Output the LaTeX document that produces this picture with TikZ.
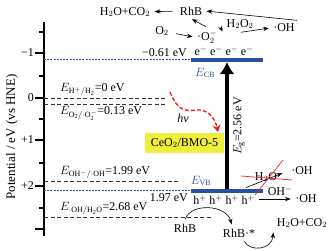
\documentclass[tikz,border=0pt]{standalone}
\usepackage{fontspec}
\setmainfont{Liberation Serif}
\usetikzlibrary{arrows.meta,calc,positioning}
\definecolor{bandblue}{RGB}{40,80,165}
\definecolor{boxyellow}{RGB}{240,238,60}
\definecolor{hvred}{RGB}{235,30,30}

\begin{document}
\begin{tikzpicture}[x=1pt,y=-1pt,>=Stealth,font=\fontsize{12}{14}\selectfont,
    lvl/.style={black!80,dash pattern=on 4pt off 2.5pt,line width=0.6pt},
    blvl/.style={bandblue,dash pattern=on 2pt off 1.2pt,line width=0.5pt},
    band/.style={bandblue,line width=3.5pt},
    rxn/.style={->,line width=0.6pt,shorten >=1pt,shorten <=1pt}]
  \def\xa{44}     % eje de potencial
  \def\xl{191}    % borde izquierdo de las bandas
  \def\xr{263}    % borde derecho de las bandas
  \def\ycb{60}    % banda de conduccion
  \def\yvb{191}   % banda de valencia
  \useasboundingbox (0,0) rectangle (330,250);

  % --- eje
  \draw[line width=1.6pt] (\xa,22) -- (\xa,236);
  \foreach \y/\t in {53/−1,98/0,140/+1,186/+2,229/} {
    \draw[line width=1.2pt] (\xa-9,\y) -- (\xa,\y);
    \node[anchor=east,inner sep=1pt] at (\xa-9,\y) {\t};
  }
  \foreach \y in {32,76,119,163,208}
    \draw[line width=1.2pt] (\xa-5,\y) -- (\xa,\y);
  \node[rotate=90,font=\fontsize{13}{15}\selectfont] (ylab) at (12,137)
       {Potential / eV (vs HNE)};

  % --- niveles redox
  \draw[lvl] (\xa,98) -- (165,98);
  \node[anchor=south west,inner sep=1pt] at (59,97) {$E_{\mathrm{H^+/H_2}}$=0 eV};
  \draw[lvl] (\xa,104) -- (165,104);
  \node[anchor=north west,inner sep=1pt] at (59,105)
       {$E_{\mathrm{O_2/{\cdot}O_2^-}}$=0.13 eV};
  \draw[lvl] (\xa,181) -- (178,181);
  \node[anchor=south west,inner sep=1pt] at (59,180)
       {$E_{\mathrm{OH^-/{\cdot}OH}}$=1.99 eV};
  \draw[lvl] (\xa,217) -- (213,217);
  \node[anchor=south west,inner sep=1pt] at (59,216)
       {$E_{\mathrm{{\cdot}OH/H_2O}}$=2.68 eV};

  % --- bandas
  \draw[blvl] (\xa,59) -- (\xl,59);
  \draw[band] (\xl,\ycb) -- (\xr,\ycb);
  \node[anchor=south east,inner sep=1pt] at (188,58) {−0.61 eV};
  \node[anchor=south,inner sep=1pt] (elec) at (224,57) {e$^-$ e$^-$ e$^-$ e$^-$};
  \node[bandblue] (ecb) at (205,73) {$E_{\mathrm{CB}}$};
  \draw[blvl] (\xa,190) -- (\xl,190);
  \draw[band] (\xl,\yvb) -- (\xr,\yvb);
  \node[anchor=north east,inner sep=1pt] at (189,192) {1.97 eV};
  \node[anchor=north,inner sep=1pt] (hole) at (224,194) {h$^+$ h$^+$ h$^+$ h$^+$};
  \node[bandblue] (evb) at (201,181) {$E_{\mathrm{VB}}$};

  % --- excitacion
  \coordinate (gbot) at (227,189);
  \coordinate (gtop) at (227,62);
  \draw[line width=3.4pt,-{Latex[width=15pt,length=12pt]}] (gbot) -- (gtop);
  \node[rotate=90] (eg) at (239,126) {$E_{\mathrm{g}}$=2.56 eV};
  \node[fill=boxyellow,minimum width=79pt,minimum height=20pt,inner sep=0pt]
       (cat) at (184.5,143) {CeO$_2$/BMO-5};
  \coordinate (hvs) at (170,92);
  \coordinate (hve) at (218,132);
  \draw[hvred,line width=1.3pt,dash pattern=on 4pt off 2pt,
        -{Stealth[width=8pt,length=7pt]}]
       (hvs) .. controls (178,112) and (186,111) .. (196,110)
             .. controls (208,109) and (215,118) .. (hve);
  \node (hv) at (183,118) {\textit{hv}};

  % --- reacciones en la banda de conduccion
  \node (co2t) at (125,12) {H$_2$O+CO$_2$};
  \node (rhbt) at (191,11) {RhB};
  \node (o2) at (162,31) {O$_2$};
  \node (o2r) at (207,37) {·O$_2^-$};
  \node (h2o2) at (240,24) {H$_2$O$_2$};
  \node (oht) at (284,28) {·OH};
  \draw[rxn,shorten <=4pt] (rhbt) -- (co2t);
  \draw[rxn,shorten <=4pt] (o2) -- (o2r.west);
  \draw[rxn] (o2r.north) -- (rhbt.south);
  \draw[rxn] (o2r.north east) -- (h2o2.south west);
  \draw[rxn] (h2o2.south) -- (oht.west);
  \draw[rxn] (oht.north east) -- (rhbt.east);

  % --- reacciones en la banda de valencia
  \node (h2o) at (266,177) {H$_2$O};
  \node (ohv) at (302,171) {·OH};
  \node (ohm) at (280,191) {OH$^-$};
  \node (ohv2) at (306,199) {·OH};
  \coordinate (vbh) at (245,188);
  \coordinate (vbr) at (258,199);
  \draw[rxn,shorten >=6pt] (vbh) -- (ohv.west);
  \draw[hvred,line width=0.7pt] (241,176) -- (292,180);
  \draw[hvred,line width=0.7pt] (283,160) -- (255,195);
  \draw[rxn] (vbr) -- (ohv2.west);

  % --- degradacion de RhB
  \node (rhb) at (185,228) {RhB};
  \node (rhbs) at (239,233) {RhB·*};
  \node (co2b) at (302,223) {H$_2$O+CO$_2$};
  \draw[rxn] (rhb.north) .. controls (190,203) and (226,204) .. ([xshift=-7pt]rhbs.north);
  \draw[rxn] ([xshift=5pt]rhbs.south) .. controls (250,252) and (272,250) .. (co2b.south west);
\end{tikzpicture}
\end{document}
